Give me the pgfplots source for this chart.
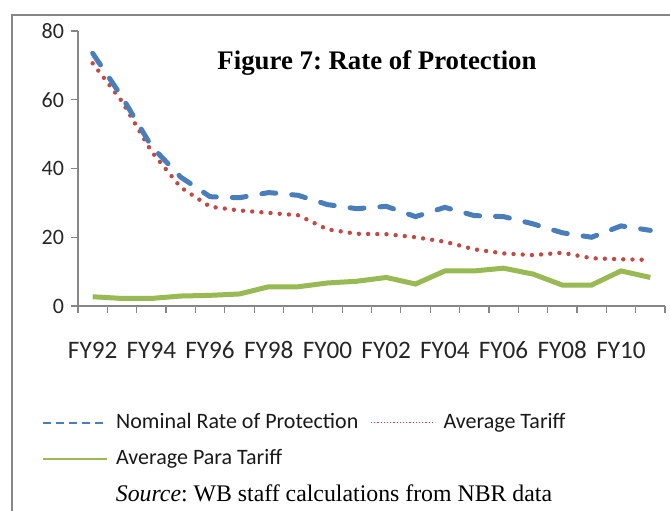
\documentclass[border=0pt]{standalone}
\usepackage{fontspec}
\setmainfont{Liberation Serif}
\newfontfamily\carlito{Carlito}
\usepackage{pgfplots}
\pgfplotsset{compat=1.18}
\definecolor{nrp}{HTML}{4A7EBB}
\definecolor{avt}{HTML}{BE4B48}
\definecolor{apt}{HTML}{98B954}
\definecolor{axgray}{RGB}{134,134,134}
\begin{document}
\frenchspacing
\begin{tikzpicture}
\path[use as bounding box] (0,0) rectangle (335pt,255pt);
\draw[axgray, line width=1pt] (6pt,-2pt) -- (6pt,247.5pt) -- (337pt,247.5pt);
\begin{axis}[
 at={(39pt,102pt)}, anchor=south west,
 scale only axis, width=293.5pt, height=137.5pt,
 xmin=-0.5, xmax=19.5, ymin=0, ymax=80,
 axis lines*=left,
 axis line style={axgray, line width=0.6pt},
 xtick={0,2,...,18},
 xticklabels={FY92,FY94,FY96,FY98,FY00,FY02,FY04,FY06,FY08,FY10},
 minor xtick={-0.5,0.5,...,19.5},
 major x tick style={draw=none},
 minor x tick style={axgray, line width=0.6pt},
 ytick={0,20,...,80},
 tick align=outside,
 major tick length=3.5pt,
 minor tick length=3.5pt,
 tick style={axgray, line width=0.6pt},
 xticklabel style={font=\carlito\fontsize{12.6}{14}\selectfont, text=black!85, text height=9pt, text depth=2pt, yshift=-10pt},
 yticklabel style={font=\carlito\fontsize{11}{13}\selectfont, text=black!85, /pgf/number format/assume math mode=true},
 legend style={draw=none, fill=none, at={(axis description cs:-0.072,-0.36)}, anchor=north west,
   font=\carlito\fontsize{11}{12}\selectfont, row sep=5pt, text=black!90,
   /tikz/every even column/.append style={column sep=4pt},
   /tikz/every odd column/.append style={column sep=2pt}},
 legend columns=2,
 legend cell align=left,
 legend image code/.code={\draw[#1] (0pt,0pt) -- (32pt,0pt);},
]
\addplot[avt, line width=2.2pt, dash pattern=on 0pt off 4.6pt, line cap=round, forget plot] coordinates {
(0,70.6) (1,59.5) (2,45.0) (3,34.5) (4,28.9) (5,27.8) (6,27.1) (7,26.4) (8,22.3) (9,21.0)
(10,20.9) (11,20.0) (12,18.7) (13,16.5) (14,15.3) (15,14.8) (16,15.5) (17,13.9) (18,13.6) (19,13.4)};
\addplot[nrp, line width=2.5pt, dash pattern=on 7pt off 8pt, line cap=round, forget plot] coordinates {
(0,73.5) (1,60.8) (2,46.5) (3,37.5) (4,31.8) (5,31.5) (6,33.0) (7,32.2) (8,29.5) (9,28.3)
(10,29.0) (11,26.0) (12,28.7) (13,26.3) (14,26.0) (15,23.9) (16,21.3) (17,20.0) (18,23.3) (19,22.0)};
\addplot[apt, line width=2.5pt, forget plot] coordinates {
(0,2.7) (1,2.2) (2,2.2) (3,2.9) (4,3.1) (5,3.5) (6,5.6) (7,5.6) (8,6.7) (9,7.2)
(10,8.3) (11,6.4) (12,10.2) (13,10.2) (14,11.0) (15,9.3) (16,6.1) (17,6.1) (18,10.2) (19,8.3)};
\addlegendimage{nrp, line width=1pt, dash pattern=on 4pt off 2.5pt}
\addlegendentry{Nominal Rate of Protection}
\addlegendimage{avt, line width=0.6pt, dash pattern=on 0.6pt off 1pt}
\addlegendentry{Average Tariff}
\addlegendimage{apt, line width=0.9pt}
\addlegendentry{Average Para Tariff}
\end{axis}
\node[font=\bfseries\fontsize{13.4}{16}\selectfont] at (188.5pt,223.5pt) {Figure 7: Rate of Protection};
\node[font=\fontsize{11.9}{14}\selectfont] at (167pt,8.5pt) {\textit{Source}: WB staff calculations from NBR data};
\end{tikzpicture}
\end{document}
